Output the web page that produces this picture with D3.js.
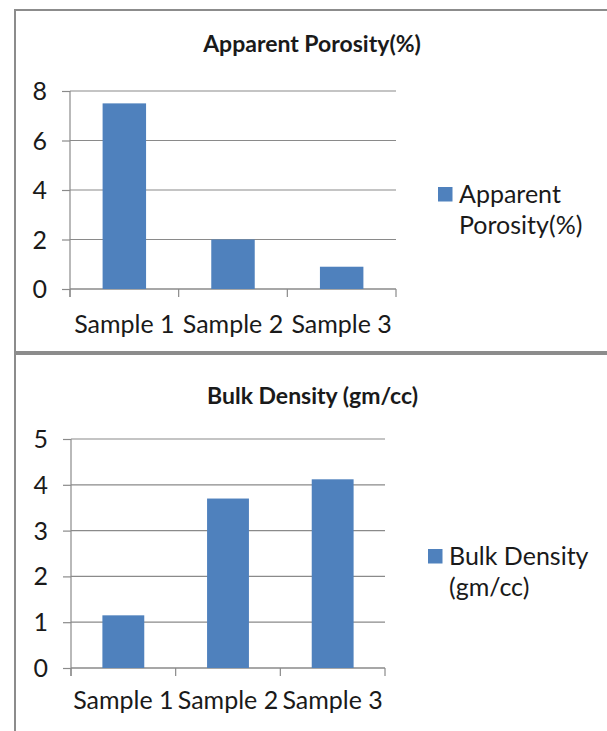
<!DOCTYPE html>
<html>
<head>
<meta charset="utf-8">
<script src="https://cdn.jsdelivr.net/npm/d3@7/dist/d3.min.js"></script>
<style>
  html, body { margin: 0; padding: 0; background: #ffffff; }
  svg { display: block; }
  text { font-family: Lato, "Open Sans", sans-serif; fill: #1a1a1a; }
</style>
</head>
<body>
<svg id="chart" width="607" height="731"></svg>
<script>
// Samples shared by both charts
const categories = ["Sample 1", "Sample 2", "Sample 3"];

// Apparent porosity (%) per sample
const porosityTitle = "Apparent Porosity(%)";
const porosityLegend = ["Apparent", "Porosity(%)"];
const porosityValues = [7.5, 2.0, 0.9];
const porosityTicks = [0, 2, 4, 6, 8];

// Bulk density (gm/cc) per sample
const densityTitle = "Bulk Density (gm/cc)";
const densityLegend = ["Bulk Density", "(gm/cc)"];
const densityValues = [1.15, 3.7, 4.12];
const densityTicks = [0, 1, 2, 3, 4, 5];

const svg = d3.select("#chart");
const BAR = "#4f81bd";
const GRID = "#8a8a8a";
const FRAME = "#8c8c8c";

function drawPanel(p) {
  const g = svg.append("g");

  // panel frame (runs off the right / bottom edge of the page)
  g.append("rect")
    .attr("x", 15).attr("y", p.frameTop)
    .attr("width", 700).attr("height", p.frameHeight)
    .attr("fill", "none").attr("stroke", FRAME).attr("stroke-width", 2);

  // title
  g.append("text")
    .attr("x", p.titleX).attr("y", p.titleY)
    .attr("text-anchor", "middle")
    .style("font-weight", "bold").style("font-size", "23px")
    .text(p.title);

  const x = d3.scaleBand().domain(categories).range([p.left, p.right]).padding(0);
  const y = d3.scaleLinear().domain([0, d3.max(p.ticks)]).range([p.bottom, p.top]);
  const step = x.step();

  // horizontal gridlines
  g.append("g").selectAll("line").data(p.ticks).join("line")
    .attr("x1", p.left).attr("x2", p.right)
    .attr("y1", d => y(d)).attr("y2", d => y(d))
    .attr("stroke", GRID).attr("stroke-width", 1.2);

  // value axis: ticks + labels
  const yAxis = d3.axisLeft(y).tickValues(p.ticks).tickSize(8).tickPadding(15)
    .tickFormat(d3.format("d"));
  const ya = g.append("g").attr("transform", `translate(${p.left},0)`).call(yAxis);
  ya.select(".domain").remove();
  ya.selectAll(".tick line").attr("stroke", GRID).attr("stroke-width", 1.2);
  ya.selectAll(".tick text")
    .style("font-family", "Lato, 'Open Sans', sans-serif")
    .style("font-size", "25px").attr("fill", "#1a1a1a").attr("dy", "0.34em");

  // value axis line, extended down to the category tick length
  g.append("line")
    .attr("x1", p.left).attr("x2", p.left)
    .attr("y1", y(d3.max(p.ticks))).attr("y2", p.bottom + 8)
    .attr("stroke", GRID).attr("stroke-width", 1.2);

  // category axis: baseline, boundary ticks, labels
  g.append("line")
    .attr("x1", p.left).attr("x2", p.right)
    .attr("y1", p.bottom).attr("y2", p.bottom)
    .attr("stroke", GRID).attr("stroke-width", 1.2);
  const bounds = categories.map(c => x(c)).concat([x.range()[1]]);
  g.append("g").selectAll("line").data(bounds).join("line")
    .attr("x1", d => d).attr("x2", d => d)
    .attr("y1", p.bottom).attr("y2", p.bottom + 8)
    .attr("stroke", GRID).attr("stroke-width", 1.2);
  g.append("g").selectAll("text").data(categories).join("text")
    .attr("x", d => x(d) + step / 2).attr("y", p.labelY)
    .attr("text-anchor", "middle").style("font-size", "25px")
    .text(d => d);

  // bars (gap width 150% of bar width)
  g.append("g").selectAll("rect").data(p.values).join("rect")
    .attr("x", (d, i) => x(categories[i]) + step * 0.3)
    .attr("width", step * 0.4)
    .attr("y", d => y(d))
    .attr("height", d => p.bottom - y(d))
    .attr("fill", BAR);

  // legend
  g.append("rect")
    .attr("x", p.legendX).attr("y", p.legendY)
    .attr("width", 14.5).attr("height", 14.5)
    .attr("fill", BAR);
  g.append("g").selectAll("text").data(p.legend).join("text")
    .attr("x", p.legendX + 21).attr("y", (d, i) => p.legendY + 15.5 + i * 31)
    .style("font-size", "25px")
    .text(d => d);
}

drawPanel({
  frameTop: 10, frameHeight: 342,
  title: porosityTitle, titleX: 312, titleY: 52,
  left: 70, right: 396, top: 91, bottom: 289,
  ticks: porosityTicks, values: porosityValues,
  labelY: 333,
  legend: porosityLegend, legendX: 438, legendY: 187
});

drawPanel({
  frameTop: 354, frameHeight: 400,
  title: densityTitle, titleX: 312.5, titleY: 404,
  left: 71, right: 385, top: 439, bottom: 668,
  ticks: densityTicks, values: densityValues,
  labelY: 709,
  legend: densityLegend, legendX: 428, legendY: 549
});
</script>
</body>
</html>
